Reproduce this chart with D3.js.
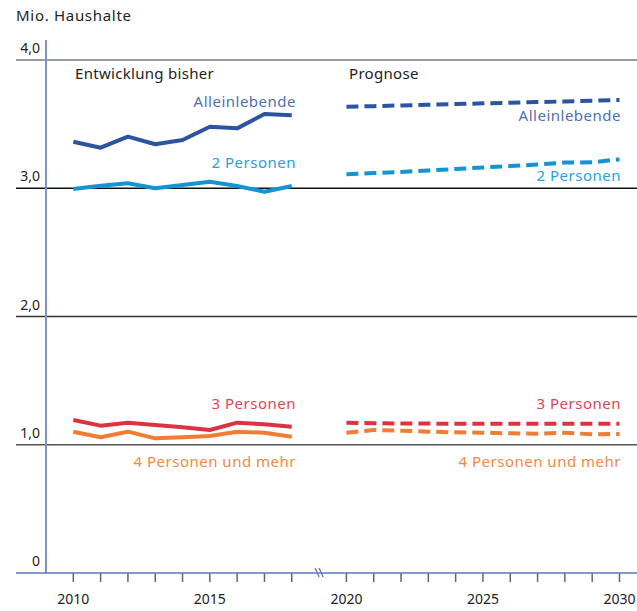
<!DOCTYPE html>
<html><head><meta charset="utf-8">
<script src="https://cdn.jsdelivr.net/npm/d3@7"></script>
<style>body{margin:0;background:#fff}svg{display:block;font-family:"Noto Sans",sans-serif}</style>
</head><body><svg id="c" width="637" height="611"></svg>
<script>
const yearsHist = [2010,2011,2012,2013,2014,2015,2016,2017,2018];
const yearsProg = [2020,2021,2022,2023,2024,2025,2026,2027,2028,2029,2030];
const alleinHist = [3.363,3.316,3.402,3.343,3.376,3.480,3.467,3.579,3.569];
const zweiHist   = [2.994,3.020,3.039,3.000,3.025,3.051,3.018,2.973,3.018];
const dreiHist   = [1.193,1.149,1.172,1.154,1.136,1.115,1.172,1.159,1.141];
const vierHist   = [1.102,1.058,1.102,1.050,1.058,1.068,1.102,1.094,1.063];
const alleinProg = [3.636,3.640,3.646,3.651,3.656,3.662,3.667,3.672,3.677,3.682,3.688];
const zweiProg   = [3.110,3.118,3.127,3.139,3.150,3.162,3.173,3.185,3.201,3.202,3.226];
const dreiProg   = [1.172,1.168,1.165,1.165,1.163,1.163,1.163,1.163,1.163,1.163,1.163];
const vierProg   = [1.094,1.115,1.110,1.102,1.097,1.094,1.089,1.086,1.094,1.081,1.084];
const seriesNames = ["Alleinlebende","2 Personen","3 Personen","4 Personen und mehr"];
const yTicks = [0,1,2,3,4];
const yTickLabels = ["0","1,0","2,0","3,0","4,0"];
const xTickYears = [2010,2011,2012,2013,2014,2015,2016,2017,2018,2020,2021,2022,2023,2024,2025,2026,2027,2028,2029,2030];
const xLabelYears = [2010,2015,2020,2025,2030];

const svg = d3.select("#c");
const x = d3.scaleLinear().domain([2010,2030]).range([73.3,619.5]);
const y = d3.scaleLinear().domain([0,4]).range([573,60]);

const lineCol = ["#2b55a0","#1594d3","#dd3341","#ef7d33"];
const labCol  = ["#4d6fb6","#2aa0dc","#e04654","#f08a45"];
const gridCol = {1:"#555",2:"#333",3:"#111",4:"#777"};

// gridlines
svg.append("g").selectAll("line").data(yTicks.filter(d=>d>0)).join("line")
  .attr("x1",16).attr("x2",637).attr("y1",d=>y(d)).attr("y2",d=>y(d))
  .attr("stroke",d=>gridCol[d]).attr("stroke-width",1.3);

// y labels
svg.append("g").selectAll("text").data(yTicks).join("text")
  .attr("x",40).attr("y",d=>y(d)-7).attr("text-anchor","end")
  .attr("font-size",14).attr("fill","#222").text((d,i)=>yTickLabels[i]);

// y axis line
svg.append("line").attr("x1",46).attr("x2",46).attr("y1",40).attr("y2",y(0))
  .attr("stroke","#7a93c9").attr("stroke-width",2);

// x ticks
svg.append("g").selectAll("line").data(xTickYears).join("line")
  .attr("x1",d=>x(d)).attr("x2",d=>x(d)).attr("y1",y(0)).attr("y2",y(0)+9)
  .attr("stroke","#666").attr("stroke-width",1.5);
// x axis
svg.append("line").attr("x1",16).attr("x2",637).attr("y1",y(0)).attr("y2",y(0))
  .attr("stroke","#5b7ab8").attr("stroke-width",1.6);
// break marks
const bx = x(2019);
[-2,2].forEach(o=>{
  svg.append("line").attr("x1",bx+o-2).attr("x2",bx+o+2).attr("y1",y(0)-5).attr("y2",y(0)+4)
    .attr("stroke","#5b7ab8").attr("stroke-width",1.3);
});
svg.append("g").selectAll("text").data(xLabelYears).join("text")
  .attr("x",d=>x(d)).attr("y",604).attr("text-anchor","middle")
  .attr("font-size",14).attr("fill","#222").text(d=>d);

// titles
svg.append("text").attr("x",16).attr("y",21).attr("font-size",15).attr("letter-spacing",0.7).attr("fill","#222").text("Mio. Haushalte");
svg.append("text").attr("x",75).attr("y",79).attr("font-size",15).attr("letter-spacing",0.3).attr("fill","#222").text("Entwicklung bisher");
svg.append("text").attr("x",349).attr("y",79).attr("font-size",15).attr("letter-spacing",0.3).attr("fill","#222").text("Prognose");

const line = d3.line().x(d=>x(d[0])).y(d=>y(d[1]));
const hist = [alleinHist,zweiHist,dreiHist,vierHist];
const prog = [alleinProg,zweiProg,dreiProg,vierProg];
hist.forEach((s,i)=>{
  svg.append("path").attr("d",line(yearsHist.map((yr,j)=>[yr,s[j]])))
    .attr("fill","none").attr("stroke",lineCol[i]).attr("stroke-width",4).attr("stroke-linejoin","round");
});
prog.forEach((s,i)=>{
  svg.append("path").attr("d",line(yearsProg.map((yr,j)=>[yr,s[j]])))
    .attr("fill","none").attr("stroke",lineCol[i]).attr("stroke-width",4)
    .attr("stroke-dasharray","12,6");
});

// series labels
const histLabY = [107,168,409,467];
const progLabY = [121,181,409,467];
seriesNames.forEach((n,i)=>{
  svg.append("text").attr("x",296).attr("y",histLabY[i]).attr("text-anchor","end")
    .attr("font-size",15).attr("letter-spacing",0.5).attr("fill",labCol[i]).text(n);
  svg.append("text").attr("x",621).attr("y",progLabY[i]).attr("text-anchor","end")
    .attr("font-size",15).attr("letter-spacing",0.5).attr("fill",labCol[i]).text(n);
});
</script></body></html>
